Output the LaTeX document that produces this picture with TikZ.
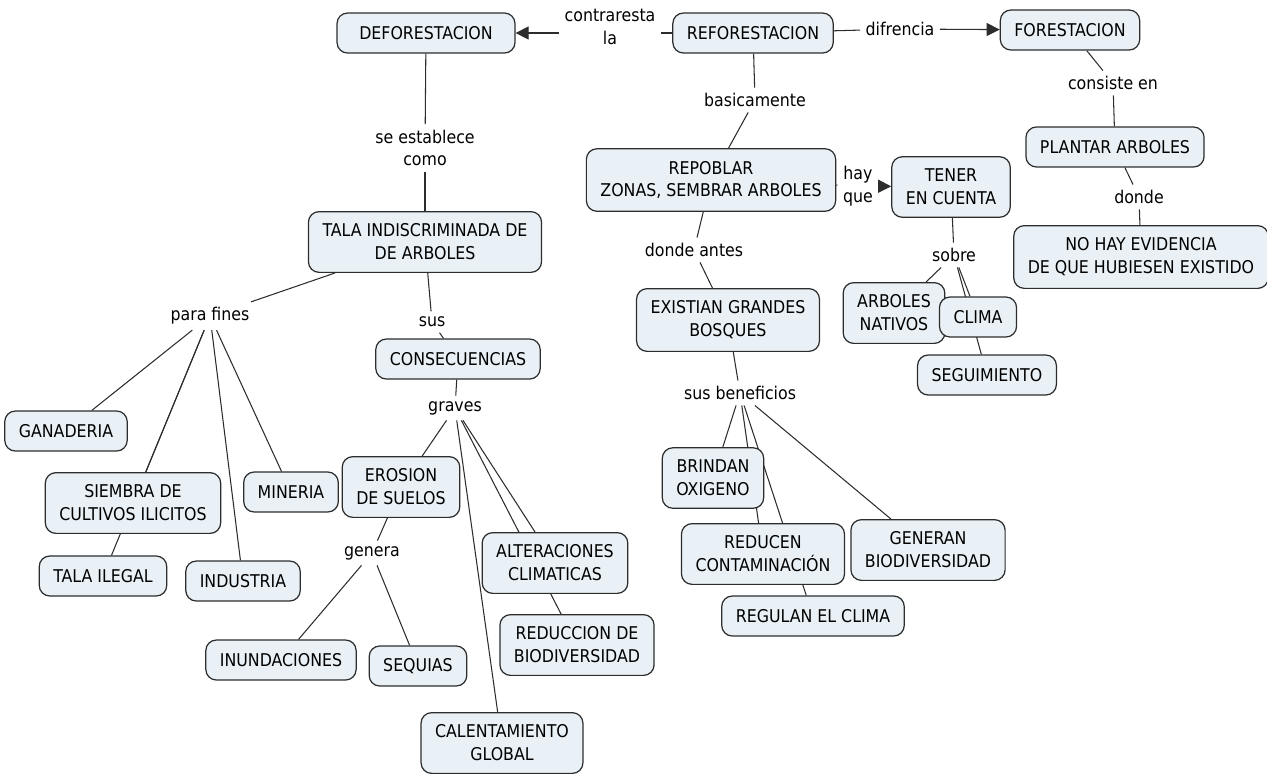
\documentclass[tikz,border=0pt]{standalone}
\usepackage{fontspec}
\setmainfont{DejaVu Sans Condensed}
\usetikzlibrary{arrows.meta,backgrounds}
\definecolor{cmapfill}{RGB}{233,241,246}
\definecolor{cmapline}{RGB}{45,45,45}
\tikzset{
	concept/.style={draw=cmapline,fill=cmapfill,rounded corners=6pt,line width=0.7pt,align=center,
		minimum height=0.8cm,inner xsep=8pt,inner ysep=7pt,font=\fontsize{10}{13}\selectfont},
	phrase/.style={align=center,inner sep=3pt,font=\fontsize{10}{13}\selectfont},
	link/.style={draw=cmapline,line width=0.6pt},
	linkto/.style={link,-{Triangle[length=0.26cm,width=0.26cm]}}
}

\begin{document}
\begin{tikzpicture}[x=0.02cm,y=-0.02cm]
\useasboundingbox (0,0) rectangle (1267,775);
\node[concept,minimum width=3.56cm] (defo) at (426,33) {DEFORESTACION};
\node[concept,minimum width=3.2cm] (refo) at (753,33) {REFORESTACION};
\node[concept,minimum width=2.72cm] (fore) at (1070,30) {FORESTACION};
\node[phrase] (contra) at (610,27) {contraresta\\la};
\node[phrase] (difr) at (900,29) {difrencia};
\node[phrase] (basi) at (755,100) {basicamente};
\node[phrase] (estab) at (425,148) {se establece\\como};
\node[concept] (tala) at (425,242) {TALA INDISCRIMINADA DE\\DE ARBOLES};
\node[phrase] (consiste) at (1113,83) {consiste en};
\node[concept] (plantar) at (1115,147) {PLANTAR ARBOLES};
\node[phrase] (donde) at (1139,197) {donde};
\node[concept] (nohay) at (1141,257) {NO HAY EVIDENCIA\\DE QUE HUBIESEN EXISTIDO};
\node[concept] (repob) at (711,180) {REPOBLAR\\ZONAS, SEMBRAR ARBOLES};
\node[phrase] (hay) at (858,186) {hay\\que};
\node[concept] (tener) at (951,187) {TENER\\EN CUENTA};
\node[phrase] (sobre) at (954,255) {sobre};
\node[concept] (nativos) at (894,313) {ARBOLES\\NATIVOS};
\node[concept] (clima) at (978,317) {CLIMA};
\node[concept] (segui) at (987,375) {SEGUIMIENTO};
\node[phrase] (antes) at (694,250) {donde antes};
\node[concept] (bosques) at (728,320) {EXISTIAN GRANDES\\BOSQUES};
\node[phrase] (benef) at (740,393) {sus beneficios};
\node[concept] (oxigeno) at (713,478) {BRINDAN\\OXIGENO};
\node[concept] (contam) at (763,554) {REDUCEN\\CONTAMINACIÓN};
\node[concept] (biodiv) at (928,550) {GENERAN\\BIODIVERSIDAD};
\node[concept] (regulan) at (813,616) {REGULAN EL CLIMA};
\node[phrase] (fines) at (210,316) {para fines};
\node[concept] (ganad) at (66,431) {GANADERIA};
\node[concept] (siembra) at (133,503) {SIEMBRA DE\\CULTIVOS ILICITOS};
\node[concept] (mineria) at (291,492) {MINERIA};
\node[concept] (ilegal) at (103,576) {TALA ILEGAL};
\node[concept] (industria) at (243,581) {INDUSTRIA};
\node[phrase] (sus) at (432,322) {sus};
\node[concept] (consec) at (458,359) {CONSECUENCIAS};
\node[phrase] (graves) at (455,408) {graves};
\node[concept] (erosion) at (401,487) {EROSION\\DE SUELOS};
\node[phrase] (genera) at (372,553) {genera};
\node[concept] (inund) at (281,660) {INUNDACIONES};
\node[concept] (sequias) at (418,666) {SEQUIAS};
\node[concept] (alter) at (555,563) {ALTERACIONES\\CLIMATICAS};
\node[concept] (reduc) at (577,645) {REDUCCION DE\\BIODIVERSIDAD};
\node[concept] (calent) at (502,743) {CALENTAMIENTO\\GLOBAL};
\begin{scope}[on background layer]
	\draw[link] (refo) -- (contra.east |- refo);
	\draw[linkto] (contra.west |- defo) -- (defo);
	\draw[link] (refo) -- (difr);
	\draw[linkto] (difr) -- (fore);
	\draw[link] (repob) -- (hay);
	\draw[linkto] (hay) -- (tener);
	\foreach \a/\b in {defo/estab,estab/tala,refo/basi,basi/repob,fore/consiste,consiste/plantar,
		plantar/donde,donde/nohay,tener/sobre,sobre/nativos,sobre/clima,sobre/segui,
		repob/antes,antes/bosques,bosques/benef,benef/oxigeno,benef/contam,benef/regulan,benef/biodiv,
		tala/fines,fines/ganad,fines/siembra,fines/ilegal,fines/industria,fines/mineria,
		tala/sus,sus/consec,consec/graves,graves/erosion,graves/calent,graves/alter,graves/reduc,
		erosion/genera,genera/inund,genera/sequias}
		\draw[link] (\a) -- (\b);
\end{scope}
\end{tikzpicture}
\end{document}
